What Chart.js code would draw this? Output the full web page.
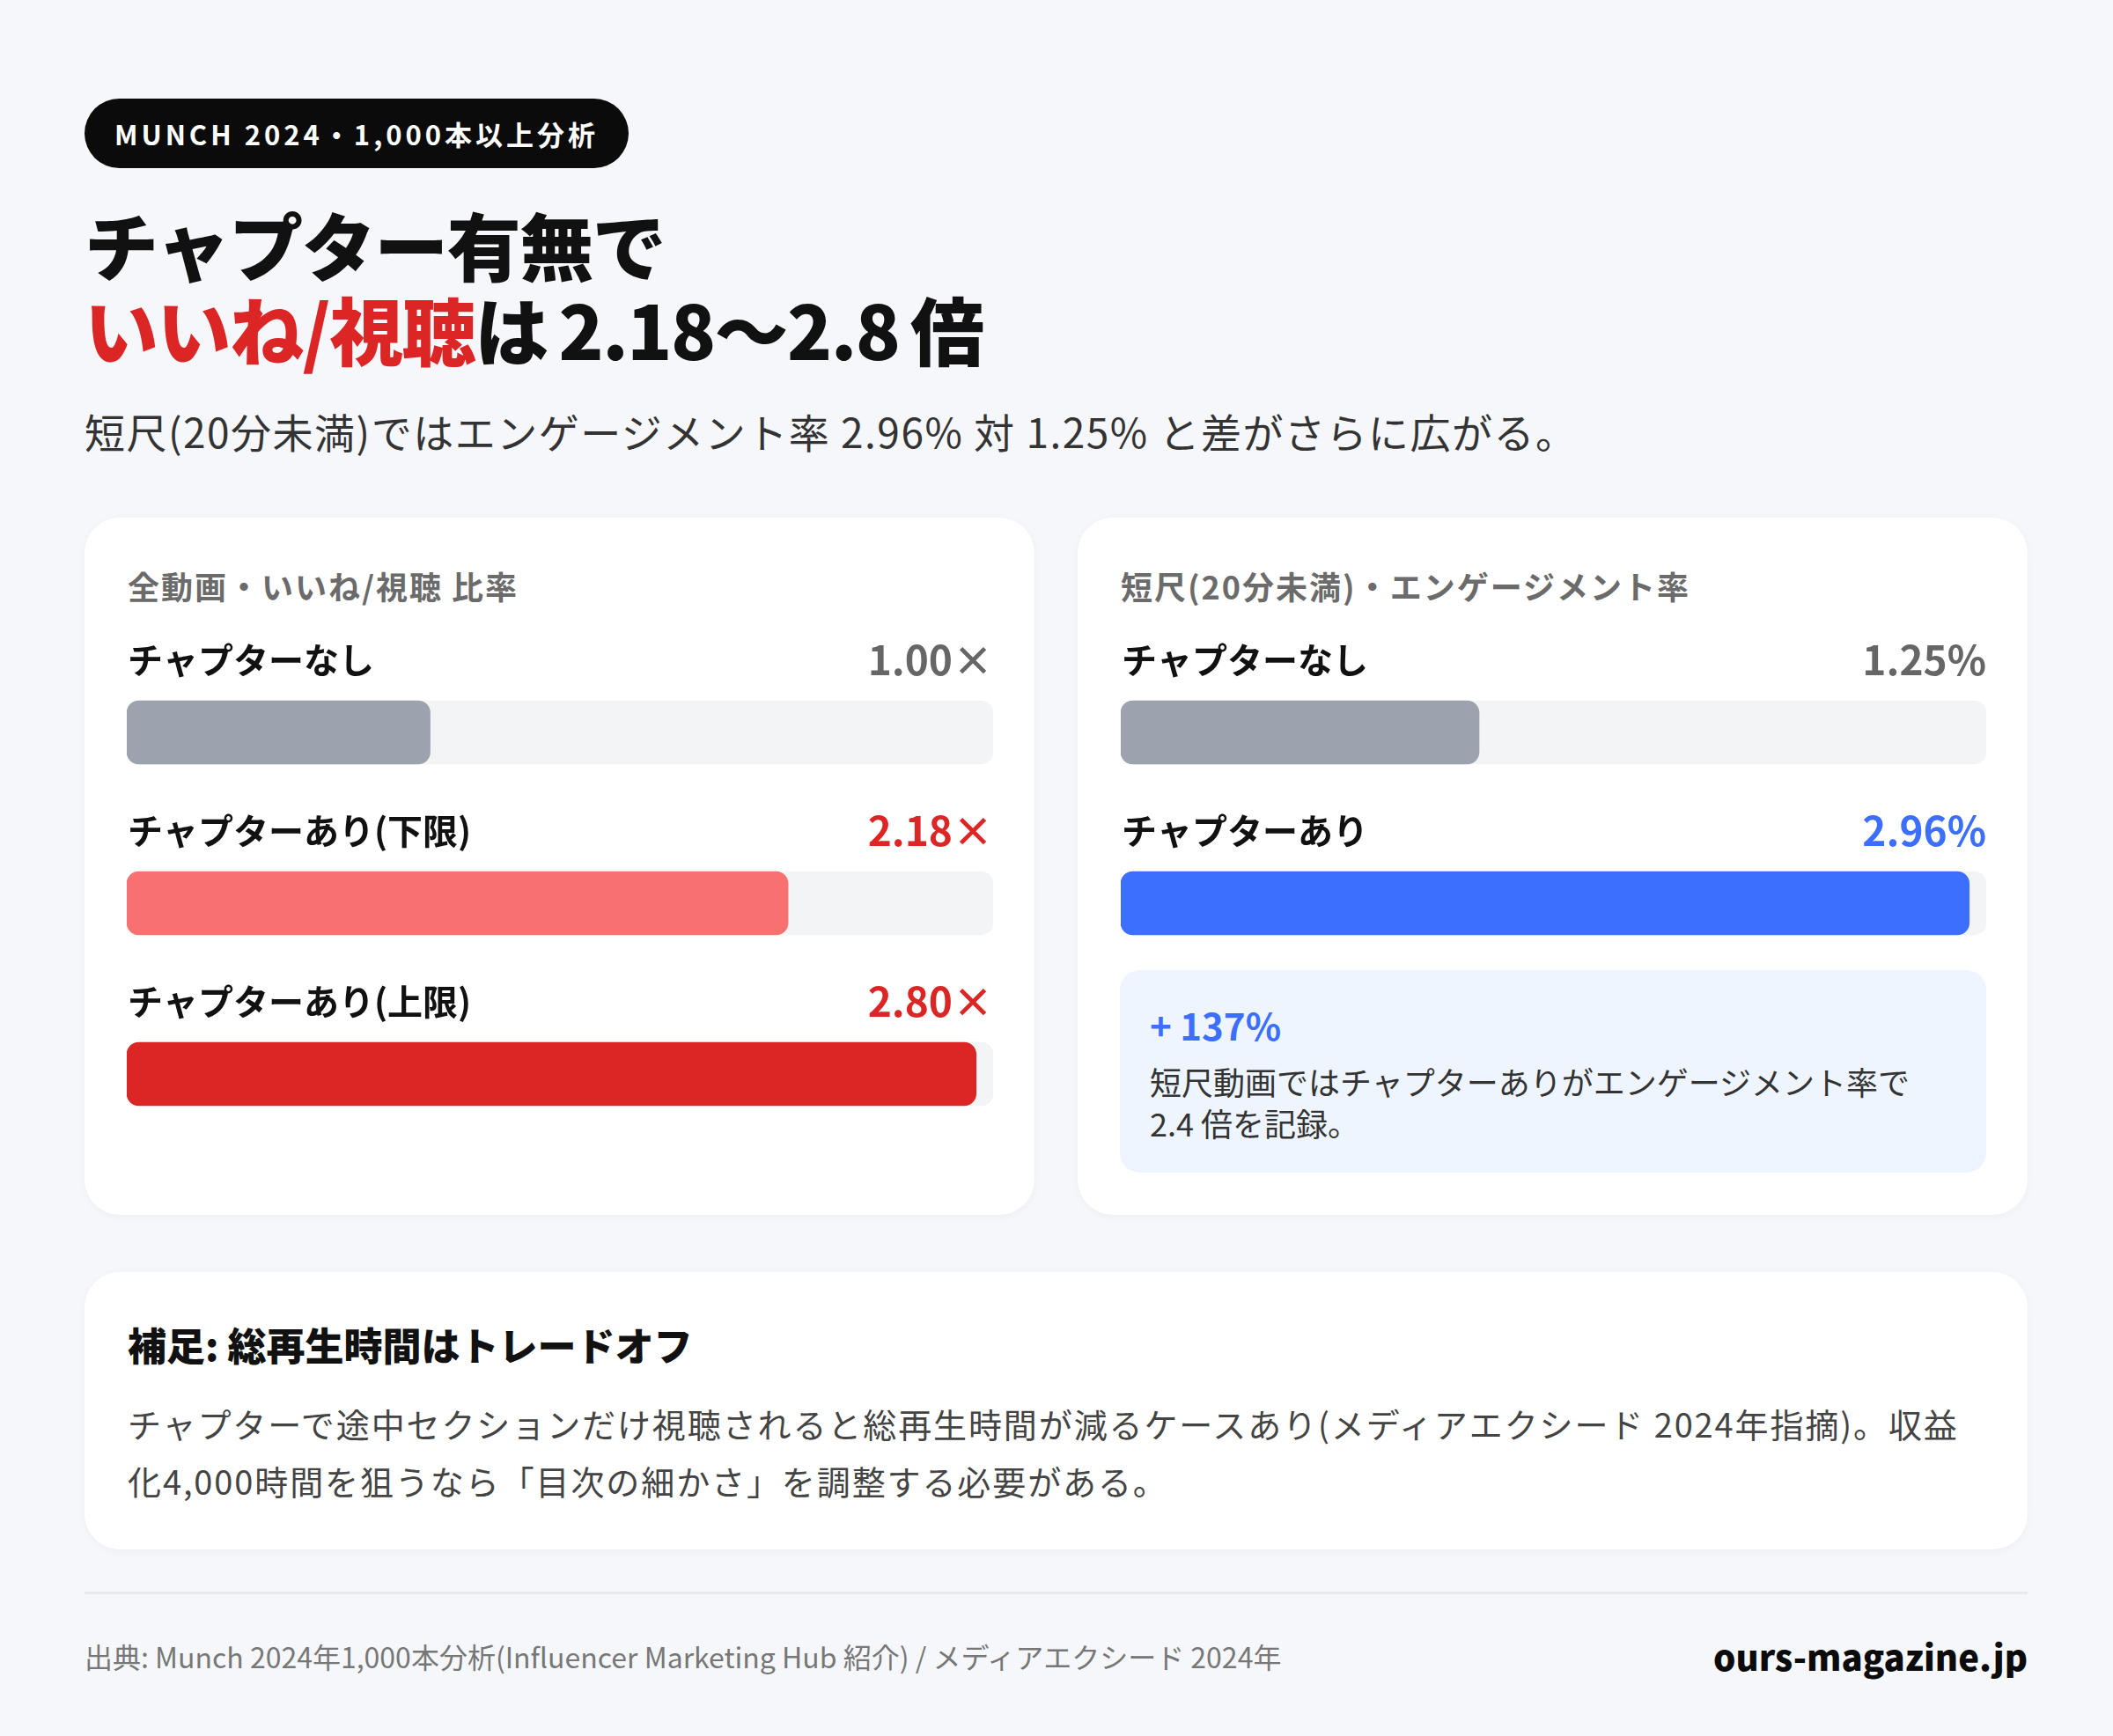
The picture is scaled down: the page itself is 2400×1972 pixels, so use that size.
<!DOCTYPE html>
<html lang="ja">
<head>
<meta charset="utf-8">
<script src="https://cdn.jsdelivr.net/npm/chart.js@4.4.1/dist/chart.umd.min.js"></script>
<style>
  html, body { margin: 0; padding: 0; }
  body {
    width: 2400px; height: 1972px; position: relative; overflow: hidden;
    background: #f6f7fb;
    font-family: "Noto Sans CJK JP", "Noto Sans", sans-serif;
    color: #111;
  }
  .abs { position: absolute; white-space: nowrap; }
  .pill {
    left: 96px; top: 112px; height: 79px; line-height: 79px;
    padding: 0 34px 0 34px; border-radius: 40px; background: #0b0b0b;
    color: #fff; font-size: 31px; font-weight: 700; letter-spacing: 4px;
  }
  .title { left: 96px; font-size: 84px; font-weight: 900; line-height: 100px; letter-spacing: -1.5px; }
  .red { color: #dc2626; }
  .sub { left: 96px; top: 460px; font-size: 46px; line-height: 58px; color: #333; letter-spacing: 1.5px; }
  .card { position: absolute; background: #fff; border-radius: 40px; box-shadow: 0 2px 10px rgba(20,30,60,0.04); }
  .ctitle { font-size: 36px; font-weight: 700; color: #6b6b6b; line-height: 44px; letter-spacing: 2px; }
  .insight {
    position: absolute; left: 1272px; top: 1102px; width: 984px; height: 230px;
    background: #eef5ff; border-radius: 22px;
  }
  .plus { left: 34px; top: 37px; font-size: 42px; font-weight: 700; color: #3d6ffe; line-height: 50px; }
  .itext { left: 34px; top: 103px; font-size: 36px; line-height: 47px; color: #333; }
  .ntitle { left: 145px; top: 1500px; font-size: 44px; font-weight: 900; line-height: 54px; }
  .nbody { left: 145px; top: 1584px; font-size: 38px; line-height: 65px; color: #444; letter-spacing: 1.9px; }
  .rule { position: absolute; left: 96px; top: 1808px; width: 2207px; height: 3px; background: #e6e8ec; }
  .src { left: 96px; top: 1861px; font-size: 32px; line-height: 40px; color: #777; }
  .brand { right: 97px; top: 1856px; font-size: 40px; font-weight: 900; line-height: 50px; color: #0b0b0b; }
  canvas { position: absolute; }
</style>
</head>
<body>
<div class="abs pill">MUNCH 2024・1,000本以上分析</div>
<div class="abs title" style="top:227px">チャプター有無で</div>
<div class="abs title" style="top:323px; word-spacing:-5px;"><span class="red">いいね/視聴</span>は 2.18〜2.8 倍</div>
<div class="abs sub">短尺(20分未満)ではエンゲージメント率 2.96% 対 1.25% と差がさらに広がる。</div>

<div class="card" style="left:96px; top:588px; width:1079px; height:792px;"></div>
<div class="card" style="left:1224px; top:588px; width:1079px; height:792px;"></div>
<div class="abs ctitle" style="left:145px; top:643px;">全動画・いいね/視聴 比率</div>
<div class="abs ctitle" style="left:1273px; top:643px;">短尺(20分未満)・エンゲージメント率</div>

<canvas id="allChart" width="984" height="620" style="left:144px; top:700px; width:984px; height:620px;"></canvas>
<canvas id="shortChart" width="983" height="430" style="left:1273px; top:700px; width:983px; height:430px;"></canvas>

<div class="insight">
  <div class="abs plus">+ 137%</div>
  <div class="abs itext">短尺動画ではチャプターありがエンゲージメント率で<br>2.4 倍を記録。</div>
</div>

<div class="card" style="left:96px; top:1445px; width:2207px; height:315px;"></div>
<div class="abs ntitle">補足: 総再生時間はトレードオフ</div>
<div class="abs nbody">チャプターで途中セクションだけ視聴されると総再生時間が減るケースあり(メディアエクシード 2024年指摘)。収益<br>化4,000時間を狙うなら「目次の細かさ」を調整する必要がある。</div>

<div class="rule"></div>
<div class="abs src">出典: Munch 2024年1,000本分析(Influencer Marketing Hub 紹介) / メディアエクシード 2024年</div>
<div class="abs brand">ours-magazine.jp</div>

<script>
var allLabels = ['チャプターなし', 'チャプターあり(下限)', 'チャプターあり(上限)'];
var allValues = [1.00, 2.18, 2.80];
var shortLabels = ['チャプターなし', 'チャプターあり'];
var shortValues = [1.25, 2.96];

var allColors = ['#9ca3af', '#f87171', '#dc2626'];
var allTextColors = ['#666666', '#dc2626', '#dc2626'];
var shortColors = ['#9ca3af', '#3d6ffe'];
var shortTextColors = ['#666666', '#3d6ffe'];

var FONT = '"Noto Sans CJK JP", "Noto Sans", sans-serif';

// labels sit above each bar, value on the right
var rowLabelPlugin = {
    id: 'rowLabels',
    afterDatasetsDraw: function(chart, args, opts) {
        var ctx = chart.ctx;
        var area = chart.chartArea;
        var bars = chart.getDatasetMeta(0).data;
        ctx.save();
        ctx.textBaseline = 'middle';
        bars.forEach(function(bar, i) {
            var y = bar.y - 82;
            ctx.font = '700 40px ' + FONT;
            ctx.fillStyle = '#111111';
            ctx.textAlign = 'left';
            ctx.fillText(chart.data.labels[i], area.left + 1, y);
            ctx.font = '700 46px ' + FONT;
            ctx.fillStyle = opts.textColors[i];
            ctx.textAlign = 'right';
            ctx.fillText(chart.data.datasets[0].data[i].toFixed(2) + opts.unit, area.right, y);
        });
        ctx.restore();
    }
};

function makeBars(id, labels, values, colors, textColors, unit, padBottom) {
    var xMax = Math.max.apply(null, values) * 1.02;
    var track = labels.map(function() { return xMax; });
    return new Chart(document.getElementById(id).getContext('2d'), {
        type: 'bar',
        data: {
            labels: labels,
            datasets: [{
                data: values,
                backgroundColor: colors,
                borderRadius: 14,
                borderSkipped: false,
                barThickness: 72,
                grouped: false
            }, {
                data: track,
                backgroundColor: '#f2f4f6',
                borderRadius: 14,
                borderSkipped: false,
                barThickness: 72,
                grouped: false
            }]
        },
        options: {
            indexAxis: 'y',
            responsive: false,
            animation: false,
            devicePixelRatio: 1,
            layout: { padding: { top: 35, bottom: padBottom, left: 0, right: 0 } },
            scales: {
                x: { display: false, min: 0, max: xMax },
                y: { display: false }
            },
            plugins: {
                legend: { display: false },
                tooltip: { enabled: false },
                rowLabels: { textColors: textColors, unit: unit }
            }
        },
        plugins: [rowLabelPlugin]
    });
}

makeBars('allChart', allLabels, allValues, allColors, allTextColors, '×', 3);
makeBars('shortChart', shortLabels, shortValues, shortColors, shortTextColors, '%', 7);
</script>
</body>
</html>
